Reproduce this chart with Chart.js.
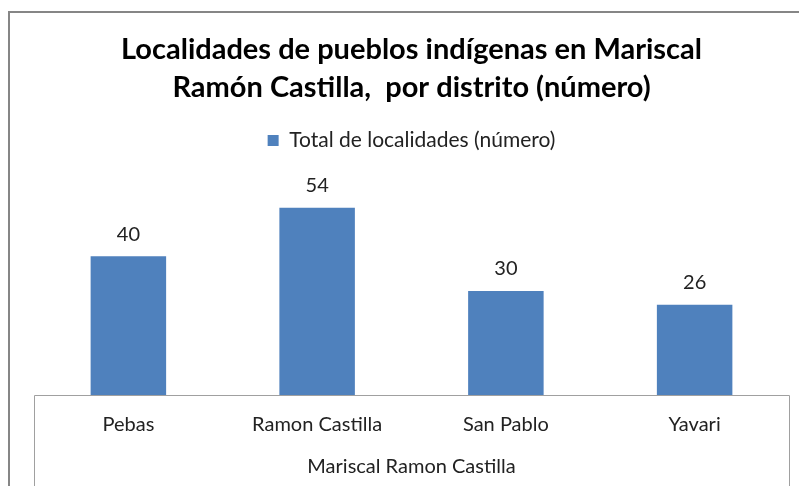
<!DOCTYPE html>
<html>
<head>
<meta charset="utf-8">
<script src="https://cdn.jsdelivr.net/npm/chart.js@4.4.0/dist/chart.umd.min.js"></script>
<style>
  html, body { margin: 0; padding: 0; background: #fff; }
  #wrap { width: 799px; height: 486px; position: relative; }
</style>
</head>
<body>
<div id="wrap"><canvas id="chart" width="799" height="486"></canvas></div>
<script>
// Datos del gráfico
const distritos = ['Pebas', 'Ramon Castilla', 'San Pablo', 'Yavari'];
const localidades = [40, 54, 30, 26];
const serieNombre = 'Total de localidades (número)';
const grupo = 'Mariscal Ramon Castilla';
const titulo = ['Localidades de pueblos indígenas en Mariscal', 'Ramón Castilla,  por distrito (número)'];

const FONT = 'Lato, "Open Sans", sans-serif';

// Marco exterior y caja del eje de categorías
const marcoPlugin = {
    id: 'marco',
    afterDraw(chart) {
        const ctx = chart.ctx;
        const area = chart.chartArea;
        ctx.save();
        ctx.strokeStyle = '#868686';
        ctx.lineWidth = 2;
        ctx.strokeRect(9, 12, 1000, 1000);
        ctx.strokeStyle = '#a0a0a0';
        ctx.lineWidth = 1;
        ctx.beginPath();
        ctx.moveTo(area.left + 0.5, chart.height + 5);
        ctx.lineTo(area.left + 0.5, area.bottom + 0.5);
        ctx.lineTo(area.right + 0.5, area.bottom + 0.5);
        ctx.lineTo(area.right + 0.5, chart.height + 5);
        ctx.stroke();
        ctx.restore();
    }
};

// Espacio extra debajo de la leyenda
const espacioLeyenda = {
    id: 'espacioLeyenda',
    beforeInit(chart) {
        const fitOriginal = chart.legend.fit;
        chart.legend.fit = function() {
            fitOriginal.bind(chart.legend)();
            this.height += 26;
        };
    }
};

// Etiquetas de valor encima de cada barra
const etiquetasPlugin = {
    id: 'etiquetas',
    afterDatasetsDraw(chart) {
        const ctx = chart.ctx;
        const meta = chart.getDatasetMeta(0);
        ctx.save();
        ctx.font = '20px ' + FONT;
        ctx.fillStyle = '#222';
        ctx.textAlign = 'center';
        ctx.textBaseline = 'middle';
        meta.data.forEach((bar, i) => {
            ctx.fillText(String(localidades[i]), bar.x, bar.y - 22);
        });
        ctx.restore();
    }
};

new Chart(document.getElementById('chart').getContext('2d'), {
    type: 'bar',
    data: {
        labels: distritos,
        datasets: [{
            label: serieNombre,
            data: localidades,
            backgroundColor: '#4F81BD',
            borderWidth: 0,
            barPercentage: 0.4,
            categoryPercentage: 1
        }]
    },
    options: {
        responsive: false,
        animation: false,
        layout: { padding: { left: 34, right: 10, top: 31, bottom: 7 } },
        plugins: {
            title: {
                display: true,
                text: titulo,
                color: '#000',
                font: { family: FONT, size: 29, weight: 'bold', lineHeight: 1.31 },
                padding: { top: 0, bottom: 17 }
            },
            legend: {
                display: true,
                labels: {
                    color: '#222',
                    font: { family: FONT, size: 21 },
                    boxWidth: 11,
                    boxHeight: 11,
                    padding: 6
                }
            },
            tooltip: { enabled: false }
        },
        scales: {
            x: {
                grid: { display: false, drawTicks: false },
                border: { display: false },
                ticks: { color: '#222', font: { family: FONT, size: 20 }, padding: 18 },
                title: {
                    display: true,
                    text: grupo,
                    color: '#222',
                    font: { family: FONT, size: 20 },
                    padding: { top: 0, bottom: 0 }
                }
            },
            y: {
                display: false,
                min: 0,
                max: 60
            }
        }
    },
    plugins: [espacioLeyenda, marcoPlugin, etiquetasPlugin]
});
</script>
</body>
</html>
